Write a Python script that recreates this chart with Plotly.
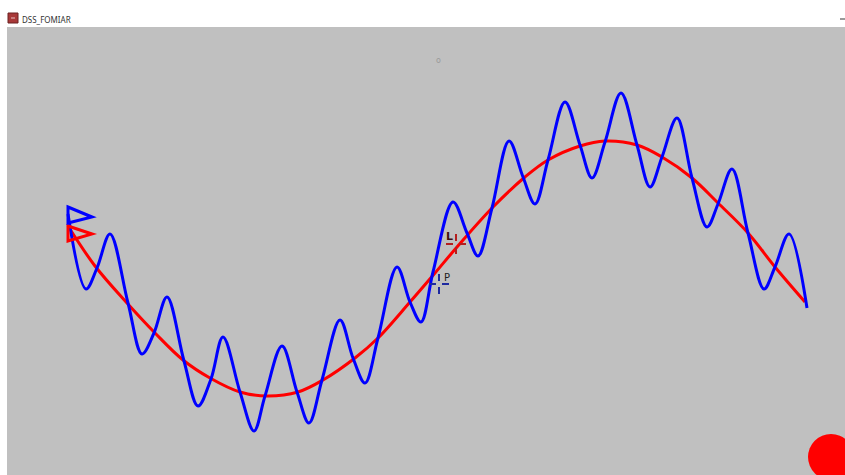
import plotly.graph_objects as go

# ---- data (screen-like units: x to the right, y downward) ----
red_x = [68, 95, 127, 155, 183, 210, 240, 267, 298, 323, 355, 378, 410, 435, 457,
         493, 525, 548, 580, 605, 637, 662, 692, 718, 748, 775, 805]
red_y = [226, 266, 303, 333, 360, 378, 392, 396, 392, 380, 358, 338, 302, 273, 247,
         207, 177, 160, 146, 141, 145, 157, 178, 203, 233, 267, 302]

blue_x = [68, 86, 97, 110, 128, 142, 154, 167, 184, 198, 211, 223, 240, 254, 265,
          282, 297, 309, 322, 340, 353, 365, 378, 397, 410, 421, 433, 453, 467, 478,
          492, 509, 523, 535, 548, 565, 580, 592, 605, 621, 637, 650, 662, 677, 692,
          707, 718, 732, 748, 764, 775, 789, 807]
blue_y = [214, 289, 268, 234, 303, 354, 333, 297, 361, 406, 379, 337, 392, 431, 396,
          346, 392, 423, 380, 320, 358, 383, 338, 267, 302, 322, 272, 202, 233, 256,
          208, 141, 177, 204, 160, 102, 145, 178, 142, 93, 145, 187, 157, 118, 178,
          227, 204, 169, 233, 289, 267, 234, 308]

point_L = (456, 244)
point_P = (439, 284)
dot = (831, 457)
title = "DSS_FOMIAR"

W, H = 845, 475

fig = go.Figure()
fig.add_trace(go.Scatter(x=red_x, y=red_y, mode="lines",
                         line=dict(color="#FF0000", width=3, shape="spline", smoothing=1.0),
                         hoverinfo="skip"))
fig.add_trace(go.Scatter(x=blue_x, y=blue_y, mode="lines",
                         line=dict(color="#0000FF", width=3, shape="spline", smoothing=1.0),
                         hoverinfo="skip"))
fig.add_trace(go.Scatter(x=[dot[0]], y=[dot[1]], mode="markers",
                         marker=dict(color="#FF0000", size=46, line=dict(width=0)),
                         cliponaxis=False, hoverinfo="skip"))

shapes = []
# gray canvas
shapes.append(dict(type="rect", xref="x", yref="y", x0=7, x1=W, y0=27, y1=H,
                   fillcolor="#C0C0C0", line=dict(width=0), layer="below"))
# start arrows (pixel-sized, anchored at the first point of each curve)
shapes.append(dict(type="path", xref="x", yref="y", xsizemode="pixel", ysizemode="pixel",
                   xanchor=red_x[0], yanchor=red_y[0],
                   path="M0,0 L24,-8 L0,-15 Z", line=dict(color="#FF0000", width=3)))
shapes.append(dict(type="path", xref="x", yref="y", xsizemode="pixel", ysizemode="pixel",
                   xanchor=blue_x[0], yanchor=blue_y[0],
                   path="M0,7 L24,-3 L0,-9 Z", line=dict(color="#0000FF", width=3)))
# crosshairs
cross = "M-10,0 H-3 M3,0 H10 M0,-10 V-3 M0,3 V10"
shapes.append(dict(type="path", xref="x", yref="y", xsizemode="pixel", ysizemode="pixel",
                   xanchor=point_L[0], yanchor=point_L[1], path=cross,
                   line=dict(color="#B41E1E", width=2)))
shapes.append(dict(type="path", xref="x", yref="y", xsizemode="pixel", ysizemode="pixel",
                   xanchor=point_P[0], yanchor=point_P[1], path=cross,
                   line=dict(color="#1E2AA0", width=2)))
# title bar icon and minimize dash
shapes.append(dict(type="rect", xref="x", yref="y", x0=8, x1=18, y0=13, y1=23,
                   fillcolor="#A83838", line=dict(color="#6A2020", width=1)))
shapes.append(dict(type="line", xref="x", yref="y", x0=11, x1=15, y0=18, y1=18,
                   line=dict(color="#E8C0C0", width=1)))
shapes.append(dict(type="line", xref="x", yref="y", x0=840, x1=845, y0=19, y1=19,
                   line=dict(color="#333333", width=1)))

annotations = [
    dict(x=20, y=19, xref="x", yref="y", text=title, showarrow=False,
         xanchor="left", yanchor="middle",
         font=dict(family="Noto Sans", size=8, color="#333333")),
    dict(x=point_L[0], y=point_L[1], xref="x", yref="y", text="<b>L</b>", showarrow=False,
         xanchor="right", yanchor="bottom", xshift=-1, yshift=-1,
         font=dict(family="DejaVu Sans", size=11, color="#401010")),
    dict(x=point_P[0], y=point_P[1], xref="x", yref="y", text="P", showarrow=False,
         xanchor="left", yanchor="bottom", xshift=3, yshift=-1,
         font=dict(family="DejaVu Sans", size=10, color="#202020")),
    dict(x=438, y=60, xref="x", yref="y", text="o", showarrow=False,
         font=dict(family="DejaVu Sans", size=8, color="#9A9A9A")),
]

fig.update_layout(
    width=W, height=H,
    margin=dict(l=0, r=0, t=0, b=0),
    paper_bgcolor="white", plot_bgcolor="white",
    showlegend=False,
    xaxis=dict(range=[0, W], visible=False, fixedrange=True),
    yaxis=dict(range=[H, 0], visible=False, fixedrange=True),
    shapes=shapes, annotations=annotations,
)

fig.write_html(
    "out.html",
    config={"displayModeBar": False},
    post_script="document.body.style.margin='0';document.body.style.overflow='hidden';",
)
